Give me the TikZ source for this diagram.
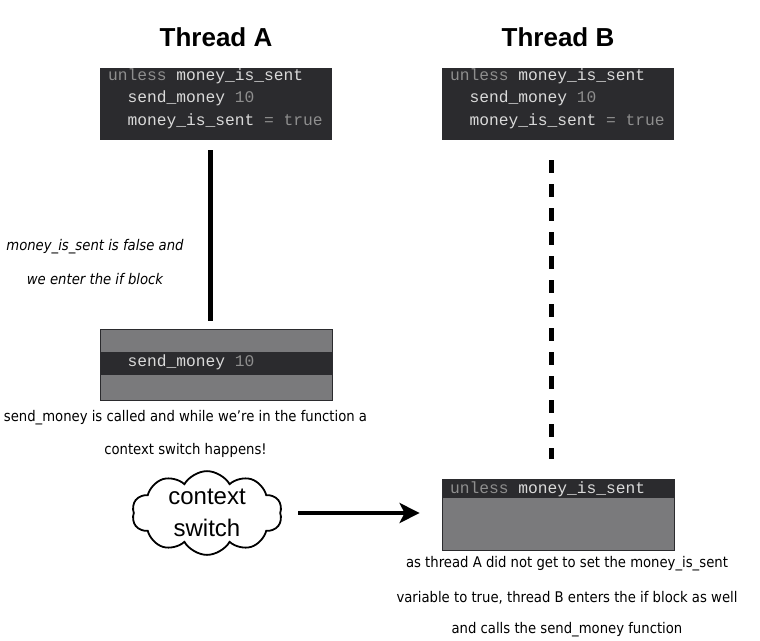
\documentclass[tikz,border=0pt]{standalone}
\usepackage{fontspec}
\usetikzlibrary{positioning}
\usetikzlibrary{calc}
\usetikzlibrary{arrows.meta}
\usetikzlibrary{shapes.symbols}

\setmainfont{DejaVu Sans Condensed}[ItalicFont={DejaVu Sans Condensed Oblique}]
\newfontfamily\headfont{Liberation Sans}[BoldFont={Liberation Sans Bold}]
\setmonofont{Liberation Mono}

\definecolor{codebg}{HTML}{2B2B2E}
\definecolor{boxgrey}{HTML}{7A7A7C}
\definecolor{kwgrey}{HTML}{8E8E8E}
\definecolor{idwhite}{HTML}{DADADA}

\tikzset{
  title/.style={font=\headfont\bfseries\fontsize{26}{30}\selectfont},
  codebox/.style={fill=codebg, minimum width=232pt, minimum height=72pt, inner sep=0pt},
  codeline/.style={anchor=base west, inner sep=0pt, text=idwhite, font=\ttfamily\fontsize{16.25}{22.5}\selectfont},
  greybox/.style={draw=codebg, fill=boxgrey, line width=0.8pt, minimum width=232pt, minimum height=71pt, inner sep=0pt},
  band/.style={fill=codebg, minimum width=232pt, inner sep=0pt},
  note/.style={font=\fontsize{14.7}{18}\selectfont, inner sep=0pt},
  slanted/.style={font=\itshape\fontsize{14.7}{18}\selectfont},
  threadline/.style={line width=5pt},
  flow/.style={line width=4pt, -{Stealth[length=20pt,width=20pt,inset=5pt]}}
}

\begin{document}
\begin{tikzpicture}[x=1pt,y=-1pt]
  \useasboundingbox (0,0) rectangle (760,640);

  % Titles
  \node [title] (titleA) at (216,37) {Thread A};
  \node [title] (titleB) at (558,37) {Thread B};

  % Thread A code
  \node [codebox] (codeA) at (216,104) {};
  \node [codeline] (codeA1) at ([xshift=8pt,yshift=-12.5pt]codeA.north west) {\textcolor{kwgrey}{unless} money\_is\_sent};
  \node [codeline] (codeA2) at ([xshift=19.5pt,yshift=-22.5pt]codeA1.base west) {send\_money \textcolor{kwgrey}{10}};
  \node [codeline] (codeA3) at ([yshift=-22.5pt]codeA2.base west) {money\_is\_sent \textcolor{kwgrey}{= true}};

  % Thread B code
  \node [codebox] (codeB) at (558,104) {};
  \node [codeline] (codeB1) at ([xshift=8pt,yshift=-12.5pt]codeB.north west) {\textcolor{kwgrey}{unless} money\_is\_sent};
  \node [codeline] (codeB2) at ([xshift=19.5pt,yshift=-22.5pt]codeB1.base west) {send\_money \textcolor{kwgrey}{10}};
  \node [codeline] (codeB3) at ([yshift=-22.5pt]codeB2.base west) {money\_is\_sent \textcolor{kwgrey}{= true}};

  % Thread A inside the if block
  \node [greybox] (sendA) at (216,364.5) {};
  \node [band, minimum height=23pt] (sendAband) at ([yshift=1pt]sendA.center) {};
  \node [codeline] (sendA1) at (127.5,366) {send\_money \textcolor{kwgrey}{10}};

  % Thread B checks the flag
  \node [greybox] (checkB) at (558,515) {};
  \node [band, minimum height=19pt, anchor=north] (checkBband) at (checkB.north) {};
  \node [codeline] (checkB1) at (450,493) {\textcolor{kwgrey}{unless} money\_is\_sent};

  % Context switch
  \node [cloud, draw, line width=1.8pt, cloud puffs=10, cloud puff arc=120, cloud ignores aspect,
         minimum width=150pt, minimum height=80pt, inner sep=0pt, align=center,
         font=\headfont\fontsize{24}{32}\selectfont] (cloud) at (207,513) {context\\switch};

  % Notes
  \node [note, slanted] (noteA1) at (95,247) {money\_is\_sent is false and};
  \node [note, slanted] (noteA2) at (95,279) {we enter the if block};
  \node [note] (noteA3) at (185.5,418) {send\_money is called and while we're in the function a};
  \node [note] (noteA4) at (185.5,450) {context switch happens!};
  \node [note] (noteB1) at (567,564) {as thread A did not get to set the money\_is\_sent};
  \node [note] (noteB2) at (567,598) {variable to true, thread B enters the if block as well};
  \node [note] (noteB3) at (567,630) {and calls the send\_money function};

  % Connections
  \draw [threadline] ([xshift=-5.5pt,yshift=-10pt]codeA.south) -- ([xshift=-5.5pt,yshift=8pt]sendA.north);
  \draw [threadline, dash pattern=on 13pt off 11pt] ([xshift=-7pt,yshift=-20pt]codeB.south) -- ([xshift=-7pt,yshift=20pt]checkB.north);
  \draw [flow, shorten <=17pt, shorten >=22pt] (cloud.east) -- (cloud.east -| checkB.west);
\end{tikzpicture}
\end{document}
